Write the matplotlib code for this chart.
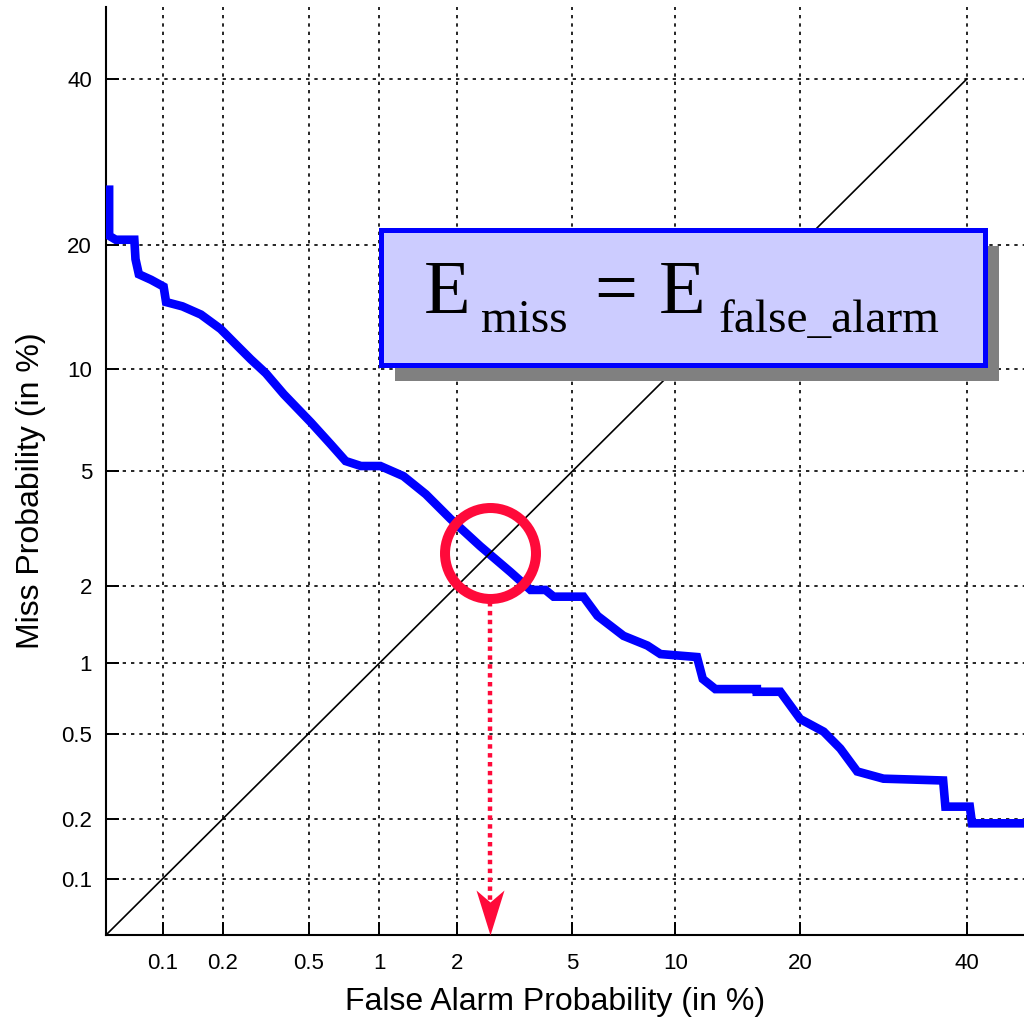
import numpy as np
import matplotlib
matplotlib.use("Agg")
import matplotlib.pyplot as plt
from matplotlib.patches import Rectangle
from statistics import NormalDist

# ---------------- data (percent) ----------------
det_false_alarm = [0.052, 0.052, 0.0565, 0.071, 0.072, 0.075, 0.087, 0.101, 0.104, 0.126,
                   0.156, 0.195, 0.231, 0.272, 0.320, 0.387, 0.511, 0.624, 0.724, 0.84,
                   1.01, 1.25, 1.53, 1.90, 2.44, 3.12, 3.65, 4.09, 4.35, 5.41,
                   5.98, 7.15, 8.37, 9.10, 11.4, 11.8, 12.7, 16.0, 16.0, 18.1,
                   20.0, 22.4, 24.2, 26.1, 29.2, 36.8, 37.1, 40.4, 40.7, 50.0]
det_miss = [25.9, 20.9, 20.5, 20.5, 18.6, 17.2, 16.7, 16.1, 14.8, 14.45,
            13.8, 12.7, 11.6, 10.6, 9.72, 8.50, 7.06, 6.07, 5.38, 5.19,
            5.19, 4.82, 4.21, 3.48, 2.80, 2.26, 1.94, 1.94, 1.83, 1.83,
            1.545, 1.29, 1.18, 1.09, 1.06, 0.86, 0.78, 0.78, 0.76, 0.76,
            0.58, 0.51, 0.428, 0.336, 0.311, 0.305, 0.229, 0.229, 0.190, 0.190]
diag_values = [0.05, 40.0]
eer = 2.65
arrow_from = 1.75
arrow_to = 0.075
axis_min, axis_max = 0.05, 50.0
tick_values = [0.1, 0.2, 0.5, 1, 2, 5, 10, 20, 40]
tick_labels = ["0.1", "0.2", "0.5", "1", "2", "5", "10", "20", "40"]

# ---------------- normal-deviate scale ----------------
_nd = NormalDist()

def _fwd(p):
    p = np.asarray(p, dtype=float)
    pc = np.clip(p / 100.0, 1e-12, 1 - 1e-12)
    return np.vectorize(lambda v: _nd.inv_cdf(float(v)) if v == v else np.nan,
                        otypes=[float])(pc)

def _inv(z):
    z = np.asarray(z, dtype=float)
    return np.vectorize(lambda v: _nd.cdf(float(v)) * 100.0, otypes=[float])(z)

W, H = 1024, 1022
fig = plt.figure(figsize=(W / 100, H / 100), dpi=100)
fig.patch.set_facecolor("white")
ax = fig.add_axes([106 / W, 1 - 935 / H, (1038.7 - 106) / W, (935 - 7.5) / H])
ax.set_xscale("function", functions=(_fwd, _inv))
ax.set_yscale("function", functions=(_fwd, _inv))
ax.set_xlim(axis_min, axis_max)
ax.set_ylim(axis_min, axis_max)

sans = ["Liberation Sans", "DejaVu Sans"]
serif = ["Liberation Serif", "DejaVu Serif"]
ax.set_xticks(tick_values)
ax.set_xticklabels(tick_labels, fontsize=16, family=sans)
ax.set_yticks(tick_values)
ax.set_yticklabels(tick_labels, fontsize=16, family=sans)
ax.minorticks_off()
ax.tick_params(direction="in", length=9.4, width=1.4, pad=13)
ax.tick_params(axis="y", pad=10)
ax.grid(True, color="black", linestyle=(0, (2, 3)), linewidth=1.2)
for s in ("top", "right"):
    ax.spines[s].set_visible(False)
for s in ("left", "bottom"):
    ax.spines[s].set_linewidth(1.5)

ax.set_xlabel("False Alarm Probability (in %)", fontsize=23, family=sans)
ax.set_ylabel("Miss Probability (in %)", fontsize=23, family=sans)
ax.xaxis.set_label_coords(0.481, -0.056)
ax.yaxis.set_label_coords(-0.064, 0.479)

# DET curve
ax.plot(det_false_alarm, det_miss, color="#0000FF", linewidth=6.2,
        solid_joinstyle="miter", zorder=3, clip_on=True)
# EER diagonal
ax.plot(diag_values, diag_values, color="black", linewidth=1.2, zorder=4)
# EER circle
ax.plot([eer], [eer], marker="o", markersize=65.5, markerfacecolor="none",
        markeredgecolor="#FF0A3A", markeredgewidth=7.2, zorder=6)
# dotted arrow
ax.plot([eer, eer], [arrow_from, arrow_to], color="#FF0A3A", linewidth=3.2,
        linestyle=(0, (1, 1)), zorder=6)
head = [(0, 0), (-14, 45), (0, 33), (14, 45), (0, 0)]
ax.plot([eer], [axis_min], marker=head, markersize=64.8, color="#FF0A3A",
        markeredgewidth=0, clip_on=False, zorder=7)

# text box with shadow
bx0, by0, bx1, by1 = 381, 230, 985, 365
fig.add_artist(Rectangle(((bx0 + 14) / W, 1 - (by1 + 16) / H), (bx1 - bx0) / W,
                         (by1 - by0) / H, transform=fig.transFigure,
                         facecolor="#808080", edgecolor="none", zorder=8))
fig.add_artist(Rectangle((bx0 / W, 1 - by1 / H), (bx1 - bx0) / W, (by1 - by0) / H,
                         transform=fig.transFigure, facecolor="#CCCCFF",
                         edgecolor="#0000FF", linewidth=3.6, zorder=9))

def ftext(px, py, s, size, ha="left"):
    fig.text(px / W, 1 - py / H, s, ha=ha, va="baseline", fontsize=size,
             family=serif, zorder=10)

ftext(424, 313, "E", 55)
ftext(481, 332, "miss", 34)
ftext(616, 313, "=", 55, ha="center")
ftext(659, 313, "E", 55)
ftext(719, 332, "false_alarm", 34)

fig.savefig("out.png", dpi=100)
